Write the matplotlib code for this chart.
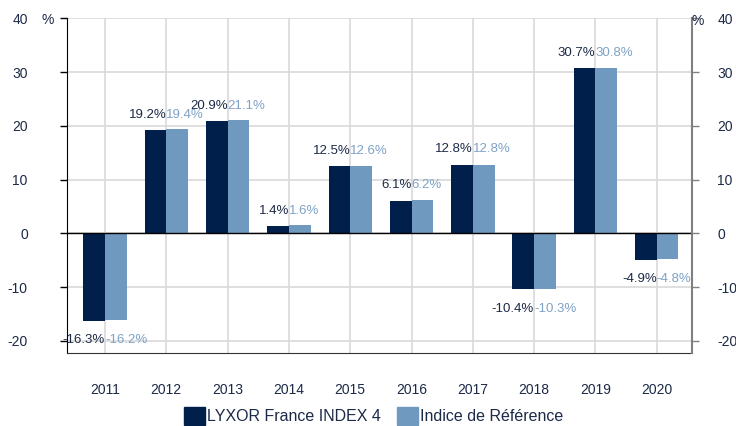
import matplotlib.pyplot as plt
import matplotlib as mpl
from matplotlib.patches import Patch
import numpy as np

mpl.rcParams["font.family"] = ["Liberation Sans", "DejaVu Sans"]
mpl.rcParams["axes.unicode_minus"] = False

# data
years = ["2011", "2012", "2013", "2014", "2015", "2016", "2017", "2018", "2019", "2020"]
fund = [-16.3, 19.2, 20.9, 1.4, 12.5, 6.1, 12.8, -10.4, 30.7, -4.9]
bench = [-16.2, 19.4, 21.1, 1.6, 12.6, 6.2, 12.8, -10.3, 30.8, -4.8]
series_names = ["LYXOR France INDEX 4", "Indice de Référence"]

DARK = "#001F4B"
LIGHT = "#7099BF"
TXT = "#1C2A48"
LIGHT_TXT = "#7FA2C6"
GRID = "#D9D9D9"

fig = plt.figure(figsize=(7.36, 4.26), dpi=100)
ax = fig.add_axes([0.0906, 0.172, 0.85, 0.785])

x = np.arange(len(years))
w = 0.354
ax.bar(x - w / 2, fund, w, color=DARK, zorder=3)
ax.bar(x + w / 2, bench, w, color=LIGHT, zorder=3)

# labels: dark ends at the category centre, light starts there
for xi, f, b in zip(x, fund, bench):
    off = 11 if f >= 0 else -14
    ax.annotate(f"{f:.1f}%", (xi, f), xytext=(0, off), textcoords="offset points",
                ha="right", va="center", fontsize=9.5, color=TXT, zorder=5)
    ax.annotate(f"{b:.1f}%", (xi, f), xytext=(0, off), textcoords="offset points",
                ha="left", va="center", fontsize=9.5, color=LIGHT_TXT, zorder=5)

ax.set_xlim(-0.625, 9.58)
ax.set_ylim(-22.2, 40)
ax.set_yticks([-20, -10, 0, 10, 20, 30, 40])
ax.set_xticks(x)
ax.set_xticklabels(years)
ax.tick_params(axis="x", length=0, pad=22, labelsize=10, labelcolor=TXT)
ax.tick_params(axis="y", length=5, width=1, color="black", pad=23, labelsize=10, labelcolor=TXT)

ax.grid(True, color=GRID, linewidth=1.2, zorder=0)
ax.axhline(0, color="black", linewidth=1, zorder=4)
for s in ["top", "right"]:
    ax.spines[s].set_visible(False)
ax.spines["left"].set_color("black")
ax.spines["bottom"].set_color("#333333")

ax2 = ax.twinx()
ax2.set_ylim(ax.get_ylim())
ax2.set_yticks([-20, -10, 0, 10, 20, 30, 40])
ax2.tick_params(axis="y", length=5, width=1, color="#808080", pad=13, labelsize=10, labelcolor=TXT)
for s in ["top", "left", "bottom"]:
    ax2.spines[s].set_visible(False)
ax2.spines["right"].set_color("#808080")
ax2.spines["right"].set_linewidth(1.5)

fig.text(48 / 736, 1 - 20 / 426, "%", ha="center", va="center", fontsize=10, color=TXT)
fig.text(698 / 736, 1 - 21 / 426, "%", ha="center", va="center", fontsize=10, color=TXT)

handles = [Patch(color=DARK, label=series_names[0]), Patch(color=LIGHT, label=series_names[1])]
leg = fig.legend(handles=handles, loc="center", bbox_to_anchor=(0.508, 0.0235), ncol=2,
                 frameon=False, fontsize=11.5, handlelength=1.3, handleheight=1.3,
                 handletextpad=0.15, columnspacing=1.0)
for t in leg.get_texts():
    t.set_color(TXT)

fig.savefig("out.png", dpi=100)
